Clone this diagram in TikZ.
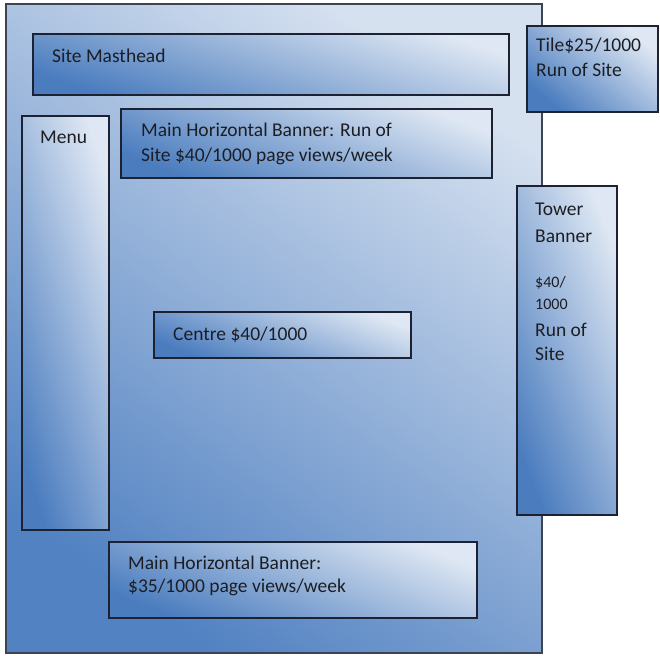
\documentclass[tikz,border=0pt]{standalone}
\usepackage{fontspec}
\setmainfont{Carlito}
\definecolor{lightbl}{RGB}{222,231,243}
\definecolor{darkbl}{RGB}{74,124,190}
\definecolor{pagelight}{RGB}{214,225,240}
\definecolor{pagedark}{RGB}{82,130,194}
\definecolor{edge}{RGB}{28,34,50}
\definecolor{txt}{RGB}{28,30,36}
\begin{document}
\begin{tikzpicture}[x=1pt,y=-1pt,
  box/.style={draw=edge, line width=1.8pt, rectangle, inner sep=0pt, anchor=north west,
    top color=lightbl, bottom color=darkbl, shading angle=#1},
  box/.default=-45,
  pagebox/.style={draw=edge!85, line width=1.6pt, rectangle, inner sep=0pt, anchor=north west,
    top color=pagelight, bottom color=pagedark, shading angle=-35},
  lbl/.style={font=\fontsize{19.5pt}{24pt}\selectfont, text=txt, inner sep=0pt, anchor=base west},
  slbl/.style={font=\fontsize{16pt}{20pt}\selectfont, text=txt, inner sep=0pt, anchor=base west}]
\useasboundingbox (0,0) rectangle (660,655);
\node[pagebox, minimum width=536pt, minimum height=649pt] (page) at (5,3) {};
\node[box=-18, minimum width=476pt, minimum height=61pt] (mast) at (32,33) {};
\node[box=-40, minimum width=131pt, minimum height=86pt] (tile) at (526,25) {};
\node[box=-22, minimum width=371pt, minimum height=69pt] (mainban) at (120,108) {};
\node[box=-72, minimum width=87pt, minimum height=414pt] (menu) at (21,115) {};
\node[box=-68, minimum width=100pt, minimum height=329pt] (tower) at (516,185) {};
\node[box=-22, minimum width=257pt, minimum height=46pt] (centre) at (153,311) {};
\node[box=-22, minimum width=368pt, minimum height=76pt] (botban) at (108,541) {};

\node[lbl] (tmast) at (52,63) {Site Masthead};
\node[lbl] (ttile1) at (536,52) {Tile\$25/1000};
\node[lbl] (ttile2) at (536,77) {Run of Site};
\node[lbl] (tmenu) at (40,143) {Menu};
\node[lbl] (tmain1) at (141,137) {Main Horizontal Banner: Run of};
\node[lbl] (tmain2) at (141,161) {Site \$40/1000 page views/week};
\node[lbl] (ttow1) at (535,215) {Tower};
\node[lbl] (ttow2) at (535,242) {Banner};
\node[slbl] (ttow3) at (535,287) {\$40/};
\node[slbl] (ttow4) at (535,309) {1000};
\node[lbl] (ttow5) at (535,336) {Run of};
\node[lbl] (ttow6) at (535,360) {Site};
\node[lbl] (tcentre) at (173,340) {Centre \$40/1000};
\node[lbl] (tbot1) at (128,569) {Main Horizontal Banner:};
\node[lbl] (tbot2) at (128,592) {\$35/1000 page views/week};
\end{tikzpicture}
\end{document}
